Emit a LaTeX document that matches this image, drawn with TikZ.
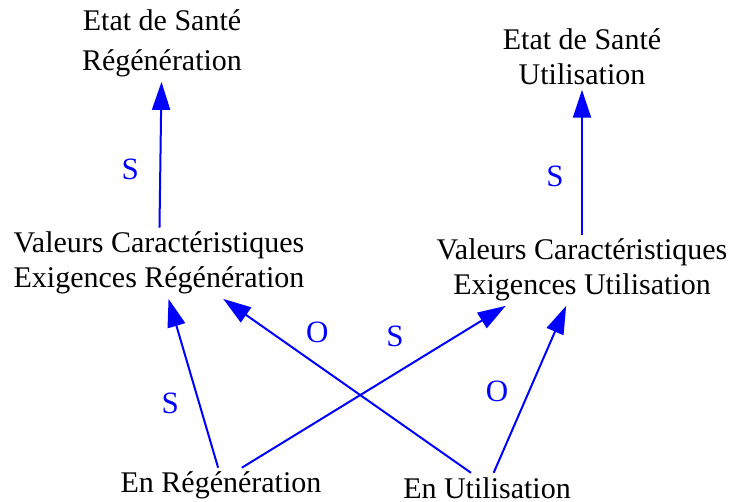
\documentclass[tikz,border=0pt]{standalone}
\usepackage{fontspec}
\setmainfont{Liberation Serif}
\usetikzlibrary{arrows.meta}

\begin{document}
\begin{tikzpicture}[x=0.5pt,y=-0.5pt,
  var/.style={align=center,inner sep=2pt,anchor=base,font=\fontsize{15}{17.5}\selectfont},
  lien/.style={blue,line width=1pt,-{Triangle[length=14pt,width=9pt]}},
  signe/.style={blue,inner sep=0pt,font=\fontsize{15.5}{17.5}\selectfont}]
\useasboundingbox (0,0) rectangle (729,502);
% base anchor = last line
\node[var,font=\fontsize{15}{20}\selectfont] (esr) at (162,71) {Etat de Santé\\Régénération};
\node[var] (esu) at (582,85) {Etat de Santé\\Utilisation};
\node[var] (vcer) at (159,288) {Valeurs Caractéristiques\\Exigences Régénération};
\node[var] (vceu) at (582,295) {Valeurs Caractéristiques\\Exigences Utilisation};
\node[var] (enr) at (221,493) {En Régénération};
\node[var] (enu) at (487,498) {En Utilisation};
\draw[lien] (vcer) -- (esr) node[signe,pos=.4,xshift=-15pt] (s1) {S};
\draw[lien] (vceu) -- (esu) node[signe,pos=.4,xshift=-13.5pt] (s2) {S};
\draw[lien] (enr.99) -- (vcer.-75) node[signe,pos=.38,xshift=-14.5pt] (s3) {S};
\draw[lien] (enu.137) -- (vcer.-29) node[signe,pos=.62,yshift=16.5pt] (o1) {O};
\draw[lien] (enr.41) -- (vceu.205) node[signe,pos=.58,yshift=18.5pt] (s4) {S};
\draw[lien] (enu.66) -- (vceu.-114) node[signe,pos=.49,xshift=-16pt] (o2) {O};
\end{tikzpicture}
\end{document}
